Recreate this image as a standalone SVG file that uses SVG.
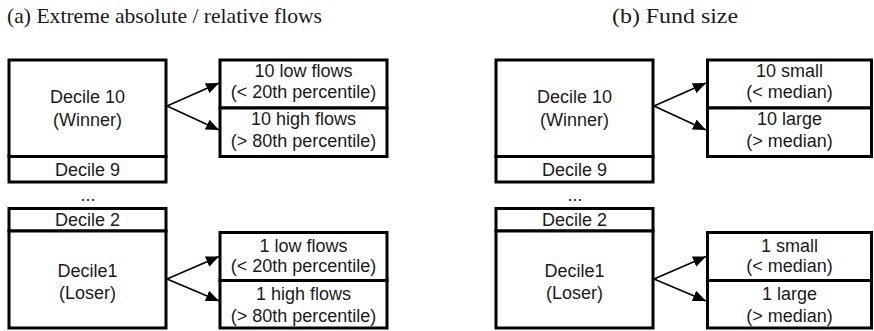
<svg xmlns="http://www.w3.org/2000/svg" width="874" height="331" viewBox="0 0 874 331">
  <style>
    .box { fill: #fff; stroke: #000; stroke-width: 3; }
    .lbl { font-family: "Liberation Sans", Arial, sans-serif; font-size: 18px; fill: #1a1a1a; text-anchor: middle; }
    .ttl { font-family: "Liberation Serif", "Times New Roman", serif; font-size: 21.5px; fill: #1a1a1a; }
    .arr { fill: none; stroke: #000; stroke-width: 1.7; marker-end: url(#head); }
  </style>
  <defs>
    <marker id="head" markerUnits="userSpaceOnUse" markerWidth="14" markerHeight="12" refX="13" refY="5.5" orient="auto">
      <path d="M0,0 L13,5.5 L0,11 z" fill="#000"/>
    </marker>
  </defs>
  <rect width="874" height="331" fill="#fff"/>

  <!-- panel titles -->
  <text class="ttl" x="7" y="23" textLength="315" lengthAdjust="spacingAndGlyphs">(a) Extreme absolute / relative flows</text>
  <text class="ttl" x="612" y="23" textLength="126" lengthAdjust="spacingAndGlyphs">(b) Fund size</text>

  <!-- panel (a): flows -->
  <g id="a-decile10">
    <rect class="box" x="9" y="60" width="157" height="96.5"/>
    <text class="lbl" x="87.5" y="103">Decile 10</text>
    <text class="lbl" x="87.5" y="126">(Winner)</text>
  </g>
  <g id="a-decile9">
    <rect class="box" x="9" y="156.5" width="157" height="25.5"/>
    <text class="lbl" x="87.5" y="176">Decile 9</text>
  </g>
  <text class="lbl" x="88" y="201">...</text>
  <g id="a-decile2">
    <rect class="box" x="9" y="208.5" width="157" height="22.5"/>
    <text class="lbl" x="87.5" y="226">Decile 2</text>
  </g>
  <g id="a-decile1">
    <rect class="box" x="9" y="231" width="157" height="97"/>
    <text class="lbl" x="87.5" y="276.5">Decile1</text>
    <text class="lbl" x="87.5" y="298.5">(Loser)</text>
  </g>
  <g id="a-10-low">
    <rect class="box" x="220" y="60" width="167" height="48"/>
    <text class="lbl" x="303.5" y="77">10 low flows</text>
    <text class="lbl" x="303.5" y="97.5">(&lt; 20th percentile)</text>
  </g>
  <g id="a-10-high">
    <rect class="box" x="220" y="108" width="167" height="48.5"/>
    <text class="lbl" x="303.5" y="125">10 high flows</text>
    <text class="lbl" x="303.5" y="146.5">(&gt; 80th percentile)</text>
  </g>
  <g id="a-1-low">
    <rect class="box" x="220" y="232.5" width="167" height="48"/>
    <text class="lbl" x="303.5" y="251.5">1 low flows</text>
    <text class="lbl" x="303.5" y="272">(&lt; 20th percentile)</text>
  </g>
  <g id="a-1-high">
    <rect class="box" x="220" y="280.5" width="167" height="47.5"/>
    <text class="lbl" x="303.5" y="300">1 high flows</text>
    <text class="lbl" x="303.5" y="321.5">(&gt; 80th percentile)</text>
  </g>

  <!-- panel (b): fund size -->
  <g id="b-decile10">
    <rect class="box" x="496" y="60" width="157" height="96.5"/>
    <text class="lbl" x="574.5" y="103">Decile 10</text>
    <text class="lbl" x="574.5" y="126">(Winner)</text>
  </g>
  <g id="b-decile9">
    <rect class="box" x="496" y="156.5" width="157" height="25.5"/>
    <text class="lbl" x="574.5" y="176">Decile 9</text>
  </g>
  <text class="lbl" x="575" y="201">...</text>
  <g id="b-decile2">
    <rect class="box" x="496" y="208.5" width="157" height="22.5"/>
    <text class="lbl" x="574.5" y="226">Decile 2</text>
  </g>
  <g id="b-decile1">
    <rect class="box" x="496" y="231" width="157" height="97"/>
    <text class="lbl" x="574.5" y="276.5">Decile1</text>
    <text class="lbl" x="574.5" y="298.5">(Loser)</text>
  </g>
  <g id="b-10-small">
    <rect class="box" x="707.5" y="60" width="164" height="48"/>
    <text class="lbl" x="789.5" y="77">10 small</text>
    <text class="lbl" x="789.5" y="97.5">(&lt; median)</text>
  </g>
  <g id="b-10-large">
    <rect class="box" x="707.5" y="108" width="164" height="48.5"/>
    <text class="lbl" x="789.5" y="125">10 large</text>
    <text class="lbl" x="789.5" y="146.5">(&gt; median)</text>
  </g>
  <g id="b-1-small">
    <rect class="box" x="707.5" y="232.5" width="164" height="48"/>
    <text class="lbl" x="789.5" y="251.5">1 small</text>
    <text class="lbl" x="789.5" y="272">(&lt; median)</text>
  </g>
  <g id="b-1-large">
    <rect class="box" x="707.5" y="280.5" width="164" height="47.5"/>
    <text class="lbl" x="789.5" y="300">1 large</text>
    <text class="lbl" x="789.5" y="321.5">(&gt; median)</text>
  </g>

  <!-- split arrows -->
  <g id="connectors">
    <path class="arr" d="M167,106 L219,83"/>
    <path class="arr" d="M167,106 L219,130"/>
    <path class="arr" d="M167,279 L219,256.5"/>
    <path class="arr" d="M167,279 L219,301"/>
    <path class="arr" d="M654,106 L706,83"/>
    <path class="arr" d="M654,106 L706,130"/>
    <path class="arr" d="M654,279 L706,256.5"/>
    <path class="arr" d="M654,279 L706,301"/>
  </g>
</svg>
